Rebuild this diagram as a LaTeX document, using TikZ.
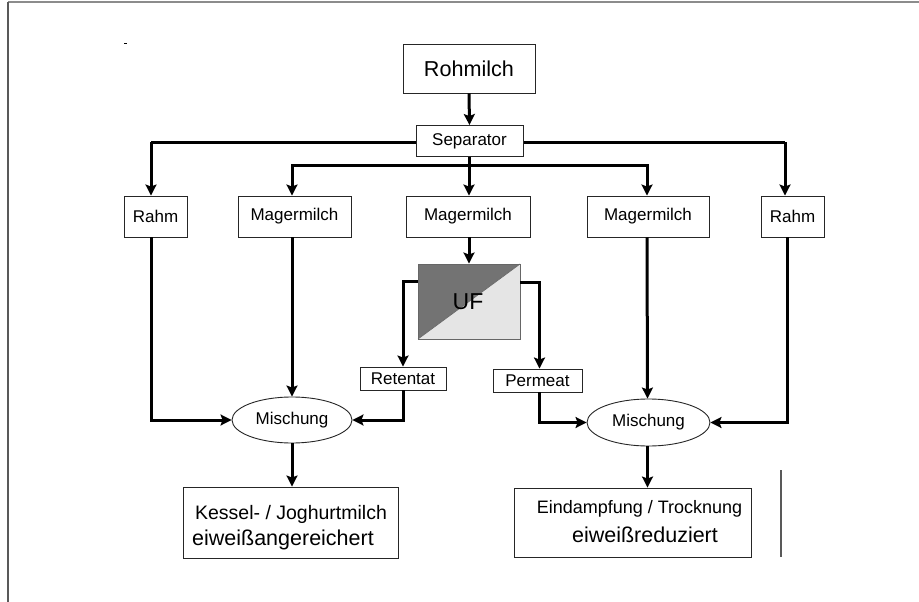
\documentclass[tikz,border=0pt]{standalone}
\usepackage{fontspec}
\setmainfont{Liberation Sans}
\usetikzlibrary{arrows.meta,shapes.geometric,calc}
\tikzset{
  box/.style={draw=black!85, line width=0.9pt, fill=white, inner sep=0pt, font=\fontsize{17}{20}\selectfont},
  arr/.style={line width=3pt, -{Stealth[length=11pt,width=11pt,inset=2pt]}},
  ln/.style={line width=3pt},
  frame/.style={line width=1.5pt}
}
\begin{document}
\begin{tikzpicture}[x=1pt,y=-1pt]
\useasboundingbox (0,0) rectangle (919,602);
% frame
\draw[frame, black!45] (8,2) -- (919,2);
\draw[frame, black!65] (8,2) -- (8,602);
\draw[frame, black!65] (781,470) -- (781,557);
\draw[line width=0.8pt] (124,43) -- (126.5,43);

% nodes
\node[box, minimum width=132, minimum height=49, font=\fontsize{21.6}{24}\selectfont] (roh) at (469,68.5) {Rohmilch};
\coordinate (jt) at (469,142);
\coordinate (jm) at (469,165);
\coordinate (tl) at (151,142);
\coordinate (tr) at (785,142);
\node[box, minimum width=63, minimum height=41] (rahmL) at (155.5,216.5) {Rahm};
\node[box, minimum width=113, minimum height=41] (magL) at (294.5,216.5) {Magermilch};
\node[box, minimum width=124, minimum height=41] (magM) at (468,216.5) {Magermilch};
\node[box, minimum width=122, minimum height=41] (magR) at (648,216.5) {Magermilch};
\node[box, minimum width=63, minimum height=41] (rahmR) at (792.5,216.5) {Rahm};

% UF
\fill[black!55] (418,264) -- (520,264) -- (418,339) -- cycle;
\fill[black!10] (520,264) -- (520,339) -- (418,339) -- cycle;
\draw[black!60, line width=0.7pt] (418,339) -- (520,264);
\node[draw=black!60, line width=0.9pt, minimum width=102, minimum height=75, inner sep=0pt] (uf) at (469,301.5) {};
\node[font=\fontsize{23}{26}\selectfont] (uft) at (468,302) {UF};

\node[box, minimum width=86, minimum height=23] (ret) at (403,378.5) {Retentat};
\node[box, minimum width=89, minimum height=23] (per) at (537.5,380.5) {Permeat};

\node[box, ellipse, minimum width=120, minimum height=46] (misL) at (292,420) {Mischung};
\node[box, ellipse, minimum width=123, minimum height=47] (misR) at (648.5,422.5) {Mischung};

\node[box, minimum width=215, minimum height=71] (kes) at (290.5,522.5) {};
\node[font=\fontsize{19.5}{22}\selectfont, anchor=base] (kes1) at (291,519) {Kessel- / Joghurtmilch};
\node[font=\fontsize{21.5}{24}\selectfont, anchor=base] (kes2) at (283,545) {eiweißangereichert};

\node[box, minimum width=237, minimum height=69] (ein) at (632.5,522.5) {};
\node[font=\fontsize{18}{21}\selectfont, anchor=base] (ein1) at (639.5,513) {Eindampfung / Trocknung};
\node[font=\fontsize{21.5}{24}\selectfont, anchor=base] (ein2) at (645,542) {eiweißreduziert};

% connectors from separator
\draw[ln] (tl) -- (tr);
\draw[arr] (tl) -- ([xshift=-4.5]rahmL.north);
\draw[arr] (tr) -- ([xshift=-7.5]rahmR.north);
\draw[arr] (jm) -| ([xshift=-2.5]magL.north);
\draw[arr] (jm) -| ([xshift=-1]magR.north);
\node[box, minimum width=107, minimum height=31] (sep) at (469.5,141) {Separator};
\draw[arr] (roh.south) -- (sep.north);
\draw[arr] (sep.south -| magM.north) ++(1,0) -- ([xshift=1]magM.north);
\draw[arr] ([xshift=1]magM.south) -- (uf.north);

% UF outputs
\draw[arr] ([yshift=20.5]uf.west) -| (ret.north);
\draw[arr] ([yshift=19.5]uf.east) -| ([xshift=2]per.north);

% to Mischung left
\draw[arr] ([xshift=-4.5]rahmL.south) |- (misL.west);
\draw[arr] ([xshift=-2.5]magL.south) -- (misL.north);
\draw[arr] (ret.south) |- (misL.east);
% to Mischung right
\draw[arr] ([xshift=2]per.south) |- (misR.west);
\draw[arr] ([xshift=-1]magR.south) -- ([xshift=-1]misR.north);
\draw[arr] ([xshift=-5.5]rahmR.south) |- (misR.east);
% to products
\draw[arr] (misL.south) -- (misL.south |- kes.north);
\draw[arr] ([xshift=-1]misR.south) -- ([xshift=-1]misR.south |- ein.north);
\end{tikzpicture}
\end{document}
